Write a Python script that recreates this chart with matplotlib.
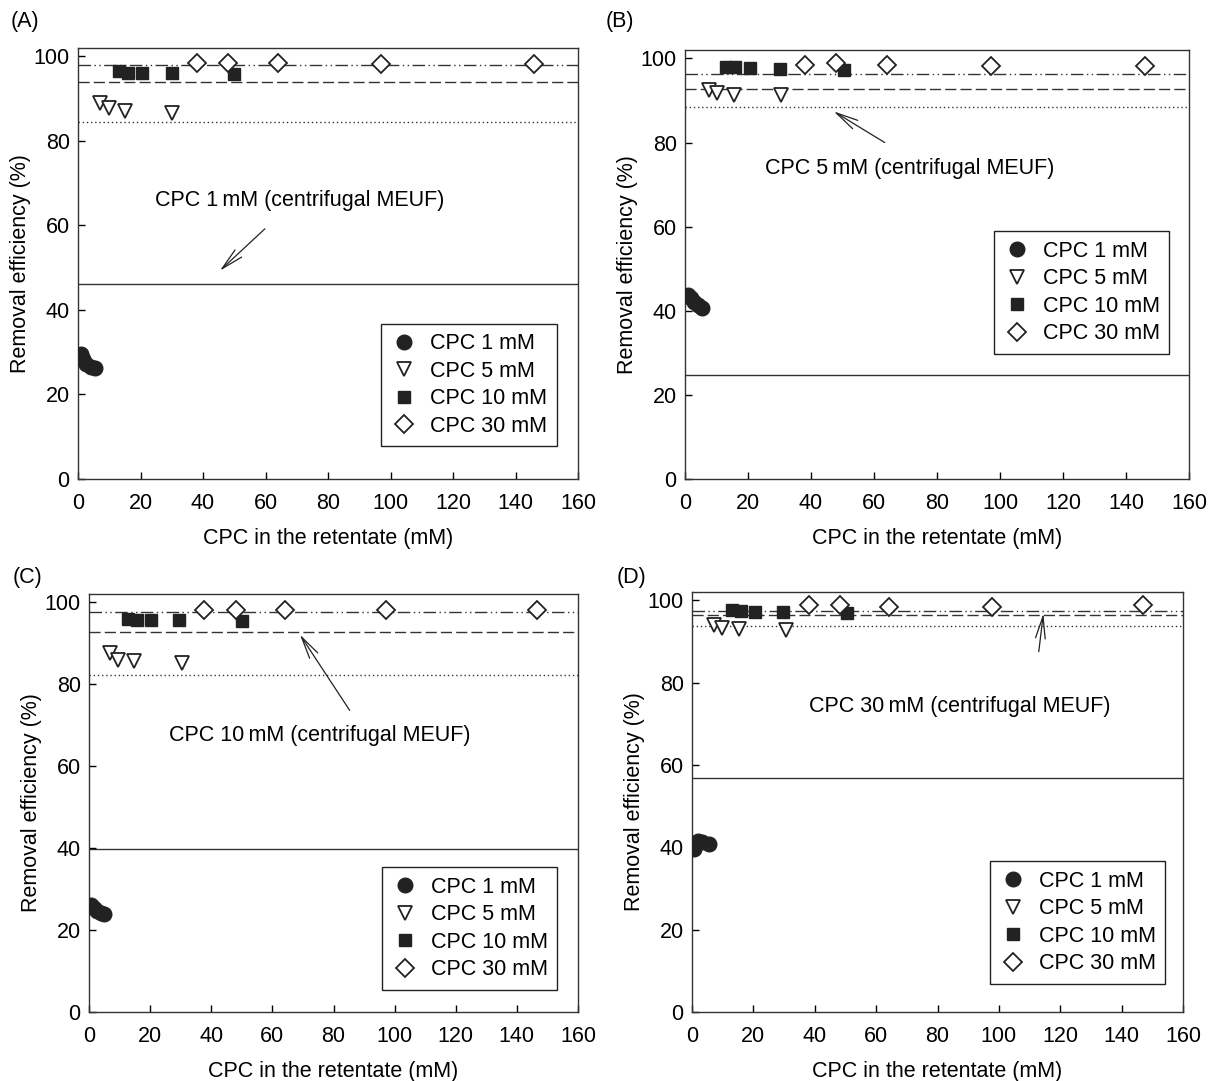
import matplotlib
matplotlib.use("Agg")
import matplotlib.pyplot as plt

plt.rcParams['font.family'] = ['Liberation Sans', 'DejaVu Sans']

# ---- data ----
panel_labels = ["(A)", "(B)", "(C)", "(D)"]
legend_labels = ["CPC 1 mM", "CPC 5 mM", "CPC 10 mM", "CPC 30 mM"]

# Panel A
a_c1_x = [1.0, 1.5, 2.5, 4.0, 5.5]
a_c1_y = [29.7, 28.5, 27.3, 26.6, 26.3]
a_c5_x = [7.0, 10.0, 15.0, 30.0]
a_c5_y = [89.0, 87.7, 87.1, 86.6]
a_c10_x = [13.0, 16.0, 20.5, 30.0, 50.0]
a_c10_y = [96.5, 96.2, 96.2, 96.1, 95.9]
a_c30_x = [38.0, 48.0, 64.0, 97.0, 146.0]
a_c30_y = [98.5, 98.4, 98.5, 98.3, 98.3]
a_lines = [98.0, 93.9, 84.6, 46.2]   # 30, 10, 5, 1 mM reference (centrifugal MEUF)

# Panel B
b_c1_x = [1.0, 2.0, 3.0, 4.0, 5.5]
b_c1_y = [43.8, 43.0, 42.0, 41.3, 40.7]
b_c5_x = [7.5, 10.0, 15.5, 30.5]
b_c5_y = [92.5, 91.8, 91.4, 91.2]
b_c10_x = [13.0, 16.0, 20.5, 30.0, 50.5]
b_c10_y = [97.9, 97.9, 97.7, 97.5, 97.3]
b_c30_x = [38.0, 48.0, 64.0, 97.0, 146.0]
b_c30_y = [98.5, 98.8, 98.5, 98.3, 98.3]
b_lines = [96.3, 92.8, 88.4, 24.8]

# Panel C
c_c1_x = [0.8, 1.5, 2.5, 4.0, 5.0]
c_c1_y = [26.0, 25.3, 24.6, 24.2, 24.0]
c_c5_x = [7.0, 9.6, 14.8, 30.3]
c_c5_y = [87.5, 86.0, 85.6, 85.1]
c_c10_x = [12.9, 15.8, 20.3, 29.5, 50.1]
c_c10_y = [96.0, 95.6, 95.7, 95.6, 95.3]
c_c30_x = [37.7, 48.0, 64.1, 97.1, 146.7]
c_c30_y = [98.1, 98.1, 98.1, 98.0, 98.0]
c_lines = [97.5, 92.7, 82.3, 39.7]

# Panel D
d_c1_x = [0.8, 2.0, 3.2, 5.5]
d_c1_y = [39.5, 41.6, 41.2, 40.8]
d_c5_x = [7.1, 9.8, 15.2, 30.7]
d_c5_y = [94.0, 93.2, 92.9, 92.7]
d_c10_x = [13.0, 15.9, 20.6, 29.8, 50.4]
d_c10_y = [97.6, 97.3, 97.2, 97.2, 96.9]
d_c30_x = [38.0, 48.3, 64.2, 97.6, 147.0]
d_c30_y = [98.8, 98.8, 98.4, 98.4, 98.8]
d_lines = [97.3, 96.5, 93.8, 56.9]

annot_texts = ["CPC 1\u2009mM (centrifugal MEUF)", "CPC 5\u2009mM (centrifugal MEUF)",
               "CPC 10\u2009mM (centrifugal MEUF)", "CPC 30\u2009mM (centrifugal MEUF)"]
# (text x, text y, arrow tip x, tip y, tail x, tail y)
annot_pos = [(71, 65.8, 45.4, 49.3, 59.8, 59.2),
             (71.3, 73.8, 47.2, 87.4, 63.4, 80.0),
             (75.5, 67.5, 69.0, 92.1, 85.3, 73.6),
             (87.3, 74.1, 114.5, 96.8, 113.0, 87.5)]

panels = [
    (a_c1_x, a_c1_y, a_c5_x, a_c5_y, a_c10_x, a_c10_y, a_c30_x, a_c30_y, a_lines),
    (b_c1_x, b_c1_y, b_c5_x, b_c5_y, b_c10_x, b_c10_y, b_c30_x, b_c30_y, b_lines),
    (c_c1_x, c_c1_y, c_c5_x, c_c5_y, c_c10_x, c_c10_y, c_c30_x, c_c30_y, c_lines),
    (d_c1_x, d_c1_y, d_c5_x, d_c5_y, d_c10_x, d_c10_y, d_c30_x, d_c30_y, d_lines),
]

# axes rectangles in pixels: left, right, top, bottom
W, H = 1208, 1081
rects_px = [(78, 578, 48, 479), (685, 1189, 50, 479), (89, 578, 594, 1012), (692, 1183, 592, 1012)]
label_px = [(25, 22), (620, 22), (28, 578), (632, 578)]
legend_center = [(0.782, 0.218), (0.787, 0.435), (0.779, 0.200), (0.786, 0.213)]

fig = plt.figure(figsize=(W / 100, H / 100), dpi=100)
mc = '#222222'
fs = 15.5

line_styles = [(0, (9, 2.5, 1, 2.5, 1, 2.5)), (0, (8, 3)), (0, (1, 2)), '-']

for i, p in enumerate(panels):
    l, r, t, b = rects_px[i]
    ax = fig.add_axes([l / W, 1 - b / H, (r - l) / W, (b - t) / H])
    c1x, c1y, c5x, c5y, c10x, c10y, c30x, c30y, lines = p
    for yv, ls in zip(lines, line_styles):
        ax.axhline(yv, color='#333333', lw=1.0, linestyle=ls, zorder=1)
    h1, = ax.plot(c1x, c1y, 'o', ms=10.5, color=mc, mec=mc, ls='none', zorder=3)
    h5, = ax.plot(c5x, c5y, 'v', ms=10.5, mfc='white', mec=mc, mew=1.3, ls='none', zorder=3)
    h10, = ax.plot(c10x, c10y, 's', ms=9, color=mc, mec=mc, ls='none', zorder=3)
    h30, = ax.plot(c30x, c30y, 'D', ms=9, mfc='white', mec=mc, mew=1.3, ls='none', zorder=4)
    ax.set_xlim(0, 160)
    ax.set_ylim(0, 102)
    ax.set_xticks(range(0, 161, 20))
    ax.set_yticks(range(0, 101, 20))
    ax.tick_params(axis='x', direction='in', labelsize=fs, length=5, width=1, pad=10)
    ax.tick_params(axis='y', direction='in', labelsize=fs, length=5, width=1, pad=6)
    for s in ax.spines.values():
        s.set_linewidth(1.0)
        s.set_color('#333333')
    ax.set_xlabel("CPC in the retentate (mM)", fontsize=fs, labelpad=10)
    ax.set_ylabel("Removal efficiency (%)", fontsize=fs, labelpad=1.5)
    leg = ax.legend([h1, h5, h10, h30], legend_labels, loc='center',
                    bbox_to_anchor=legend_center[i], fontsize=fs, frameon=True,
                    fancybox=False, edgecolor='#222222', framealpha=1,
                    handletextpad=0.6, labelspacing=0.3, borderpad=0.45,
                    handlelength=1.2, borderaxespad=0)
    leg.get_frame().set_linewidth(1.0)
    tx, ty, ax_tip, ay_tip, ax_tail, ay_tail = annot_pos[i]
    ax.text(tx, ty, annot_texts[i], fontsize=fs, ha='center', va='center')
    ax.annotate('', xy=(ax_tip, ay_tip), xytext=(ax_tail, ay_tail),
                arrowprops=dict(arrowstyle='->,head_length=1.6,head_width=0.35',
                                color='#222222', lw=0.9, shrinkA=0, shrinkB=0))
    lx, ly = label_px[i]
    fig.text(lx / W, 1 - ly / H, panel_labels[i], fontsize=fs, ha='center', va='center')

fig.savefig("out.png", dpi=100)
